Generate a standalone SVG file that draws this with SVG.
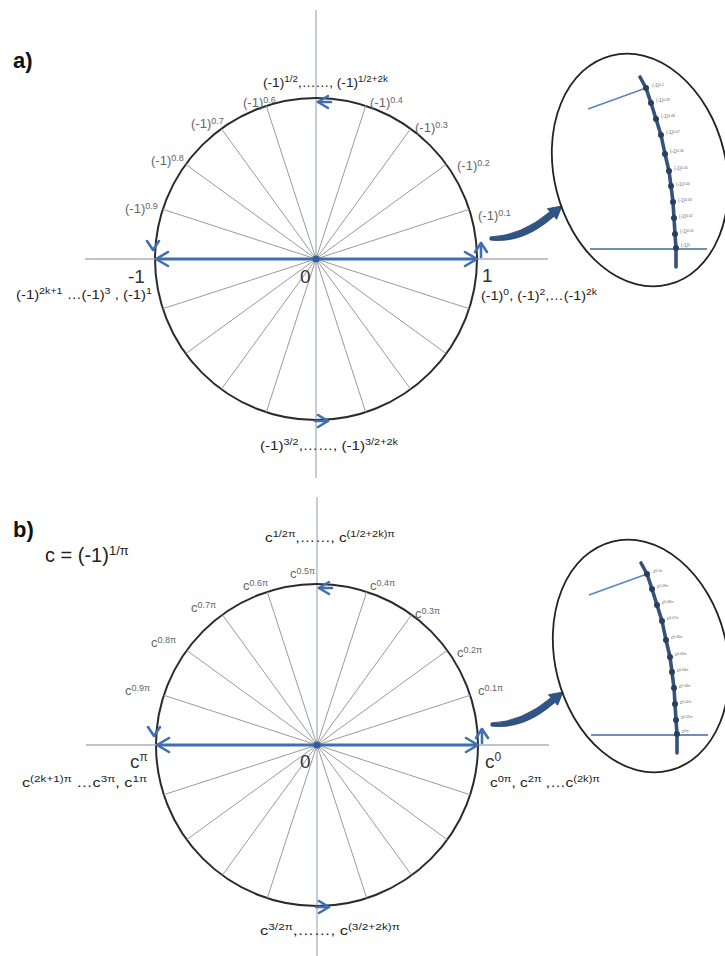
<svg xmlns="http://www.w3.org/2000/svg" xmlns:xlink="http://www.w3.org/1999/xlink" width="725" height="956" viewBox="0 0 725 956">
<style>
.axis{stroke:#a9b0bc;stroke-width:1.3;fill:none}
.spoke{stroke:#9a9a9a;stroke-width:1;fill:none}
.rim{stroke:#2b2b2b;stroke-width:2;fill:none}
.blue{stroke:#3f6fb0;stroke-width:3.2;fill:none;stroke-linecap:round;stroke-linejoin:round}
.chev{stroke:#3f6fb0;stroke-width:2.6;fill:none;stroke-linecap:round;stroke-linejoin:round}
.ell{stroke:#222;stroke-width:1.8;fill:none}
.arc{stroke:#34527a;stroke-width:3.6;fill:none;stroke-linejoin:round;stroke-linecap:round}
.thin{stroke:#5b86c0;stroke-width:1.6;fill:none}
.hz{stroke:#3e6aa0;stroke-width:1.6;fill:none}
.dot{fill:#2b3f5c}
.big{fill:#2f5588;stroke:#1f3b63;stroke-width:0.8}
text{font-family:"Liberation Sans","DejaVu Sans",sans-serif}
.lab{font-size:13px;fill:#666}
.main{font-size:12.5px;fill:#222}
.num{font-size:19px;fill:#333}
.hdr{font-size:22px;fill:#111;font-weight:bold}
.tiny{font-size:4.5px;fill:#666}
</style>
<defs>
<g id="wheel">
<circle cx="316" cy="259" r="161" class="rim"/>
<g id="spokes">
<line x1="316" y1="259" x2="469.1" y2="209.3" class="spoke"/>
<line x1="316" y1="259" x2="446.2" y2="164.4" class="spoke"/>
<line x1="316" y1="259" x2="410.6" y2="128.8" class="spoke"/>
<line x1="316" y1="259" x2="365.7" y2="105.9" class="spoke"/>
<line x1="316" y1="259" x2="266.3" y2="105.9" class="spoke"/>
<line x1="316" y1="259" x2="221.4" y2="128.8" class="spoke"/>
<line x1="316" y1="259" x2="185.8" y2="164.4" class="spoke"/>
<line x1="316" y1="259" x2="162.9" y2="209.3" class="spoke"/>
<line x1="316" y1="259" x2="162.9" y2="308.7" class="spoke"/>
<line x1="316" y1="259" x2="185.8" y2="353.6" class="spoke"/>
<line x1="316" y1="259" x2="221.4" y2="389.2" class="spoke"/>
<line x1="316" y1="259" x2="266.3" y2="412.1" class="spoke"/>
<line x1="316" y1="259" x2="365.7" y2="412.1" class="spoke"/>
<line x1="316" y1="259" x2="410.6" y2="389.2" class="spoke"/>
<line x1="316" y1="259" x2="446.2" y2="353.6" class="spoke"/>
<line x1="316" y1="259" x2="469.1" y2="308.7" class="spoke"/>
</g>
<line x1="85" y1="259" x2="548" y2="259" class="axis"/>
<g id="arrows">
<line x1="158" y1="259" x2="474" y2="259" class="blue"/>
<polyline points="168,252 156,259 168,266" class="chev"/>
<polyline points="465,252 477,259 465,266" class="chev"/>
<polyline points="328,96 318,102 328,108" class="chev"/>
<line x1="318" y1="102" x2="331" y2="102" class="chev"/>
<polyline points="147,241 153,250 159,241" class="chev"/>
<polyline points="318,415 328,421 318,427" class="chev"/>
<line x1="315" y1="421" x2="328" y2="421" class="chev"/>
<polyline points="475,252 481,243 487,252" class="chev"/>
<line x1="481" y1="243" x2="481" y2="257" class="chev"/>
<circle cx="316" cy="259" r="3.5" fill="#2f5f9e"/>
</g>
<path d="M490,237 Q521,236 550,211.7 L547.4,208.7 L562,206 L556.6,219.3 L554,216.3 Q523,244 490,240 Z" class="big"/>
<ellipse cx="640" cy="170" rx="86" ry="118" transform="rotate(-14 640 170)" class="ell"/>
<line x1="588" y1="109" x2="646" y2="88" class="thin"/>
<line x1="590" y1="249" x2="707" y2="249" class="hz"/>
<polyline points="640,77 646,88 651,103 656,119 661,135 665,154 669,171 671,186 673,202 674,218 675,234 676,248 676,267" class="arc"/>
<g class="dot">
<circle cx="646" cy="88" r="3"/><circle cx="651" cy="103" r="3"/><circle cx="656" cy="119" r="3"/><circle cx="661" cy="135" r="3"/><circle cx="665" cy="154" r="3"/><circle cx="669" cy="171" r="3"/><circle cx="671" cy="186" r="3"/><circle cx="673" cy="202" r="3"/><circle cx="674" cy="218" r="3"/><circle cx="675" cy="234" r="3"/><circle cx="676" cy="248" r="3"/>
</g>
</g>
</defs>

<g id="panel-a">
<line x1="316" y1="10" x2="316" y2="478" class="axis"/>
<use xlink:href="#wheel" href="#wheel"/>
<text x="13" y="68" class="hdr">a)</text>
<g id="labels-a">
<text x="263" y="87" class="main" textLength="125" lengthAdjust="spacingAndGlyphs">(-1)<tspan dy="-5" font-size="9">1/2</tspan><tspan dy="5">,……, (-1)</tspan><tspan dy="-5" font-size="9">1/2+2k</tspan></text>
<text x="243" y="107" class="lab">(-1)<tspan dy="-4" font-size="9">0.6</tspan></text>
<text x="191" y="128" class="lab">(-1)<tspan dy="-4" font-size="9">0.7</tspan></text>
<text x="151" y="165" class="lab">(-1)<tspan dy="-4" font-size="9">0.8</tspan></text>
<text x="125" y="213" class="lab">(-1)<tspan dy="-4" font-size="9">0.9</tspan></text>
<text x="370" y="107" class="lab">(-1)<tspan dy="-4" font-size="9">0.4</tspan></text>
<text x="415" y="132" class="lab">(-1)<tspan dy="-4" font-size="9">0.3</tspan></text>
<text x="457" y="170" class="lab">(-1)<tspan dy="-4" font-size="9">0.2</tspan></text>
<text x="478" y="220" class="lab">(-1)<tspan dy="-4" font-size="9">0.1</tspan></text>
<text x="128" y="283" class="num">-1</text>
<text x="300" y="283" class="num">0</text>
<text x="482" y="282" class="num">1</text>
<text x="16" y="299" class="main" textLength="136" lengthAdjust="spacingAndGlyphs">(-1)<tspan dy="-5" font-size="9">2k+1</tspan><tspan dy="5"> …(-1)</tspan><tspan dy="-5" font-size="9">3</tspan><tspan dy="5"> ,  (-1)</tspan><tspan dy="-5" font-size="9">1</tspan></text>
<text x="481" y="300" class="main" textLength="116" lengthAdjust="spacingAndGlyphs">(-1)<tspan dy="-5" font-size="9">0</tspan><tspan dy="5">, (-1)</tspan><tspan dy="-5" font-size="9">2</tspan><tspan dy="5">,…(-1)</tspan><tspan dy="-5" font-size="9">2k</tspan></text>
<text x="260" y="450" class="main" textLength="138" lengthAdjust="spacingAndGlyphs">(-1)<tspan dy="-5" font-size="9">3/2</tspan><tspan dy="5">,……, (-1)</tspan><tspan dy="-5" font-size="9">3/2+2k</tspan></text>
</g>
<g id="zoom-labels-a" class="tiny">
<text x="652" y="87">(-1)<tspan dy="-1.5" font-size="3.5">0.1</tspan></text>
<text x="656" y="102">(-1)<tspan dy="-1.5" font-size="3.5">0.09</tspan></text>
<text x="661" y="118">(-1)<tspan dy="-1.5" font-size="3.5">0.08</tspan></text>
<text x="666" y="134">(-1)<tspan dy="-1.5" font-size="3.5">0.07</tspan></text>
<text x="670" y="153">(-1)<tspan dy="-1.5" font-size="3.5">0.06</tspan></text>
<text x="674" y="170">(-1)<tspan dy="-1.5" font-size="3.5">0.05</tspan></text>
<text x="676" y="186">(-1)<tspan dy="-1.5" font-size="3.5">0.04</tspan></text>
<text x="678" y="202">(-1)<tspan dy="-1.5" font-size="3.5">0.03</tspan></text>
<text x="679" y="218">(-1)<tspan dy="-1.5" font-size="3.5">0.02</tspan></text>
<text x="680" y="233">(-1)<tspan dy="-1.5" font-size="3.5">0.01</tspan></text>
<text x="681" y="247">(-1)<tspan dy="-1.5" font-size="3.5">0</tspan></text>
</g>
</g>

<g id="panel-b">
<line x1="317" y1="497" x2="317" y2="956" class="axis"/>
<use xlink:href="#wheel" href="#wheel" transform="translate(1,486)"/>
<text x="13" y="537" class="hdr">b)</text>
<text x="45" y="562" style="font-size:20px;fill:#222">c = (-1)<tspan dy="-7" font-size="13">1/π</tspan></text>
<g id="labels-b">
<text x="265" y="542" class="main" textLength="130" lengthAdjust="spacingAndGlyphs">c<tspan dy="-5" font-size="9">1/2π</tspan><tspan dy="5">,……, c</tspan><tspan dy="-5" font-size="9">(1/2+2k)π</tspan></text>
<text x="290" y="578" class="lab">c<tspan dy="-4" font-size="9">0.5π</tspan></text>
<text x="243" y="590" class="lab">c<tspan dy="-4" font-size="9">0.6π</tspan></text>
<text x="191" y="612" class="lab">c<tspan dy="-4" font-size="9">0.7π</tspan></text>
<text x="151" y="647" class="lab">c<tspan dy="-4" font-size="9">0.8π</tspan></text>
<text x="125" y="695" class="lab">c<tspan dy="-4" font-size="9">0.9π</tspan></text>
<text x="370" y="590" class="lab">c<tspan dy="-4" font-size="9">0.4π</tspan></text>
<text x="415" y="618" class="lab">c<tspan dy="-4" font-size="9">0.3π</tspan></text>
<text x="457" y="657" class="lab">c<tspan dy="-4" font-size="9">0.2π</tspan></text>
<text x="478" y="695" class="lab">c<tspan dy="-4" font-size="9">0.1π</tspan></text>
<text x="130" y="768" class="num">c<tspan dy="-7" font-size="12">π</tspan></text>
<text x="300" y="768" class="num">0</text>
<text x="485" y="768" class="num">c<tspan dy="-7" font-size="12">0</tspan></text>
<text x="22" y="787" class="main" textLength="125" lengthAdjust="spacingAndGlyphs">c<tspan dy="-5" font-size="9">(2k+1)π</tspan><tspan dy="5"> …c</tspan><tspan dy="-5" font-size="9">3π</tspan><tspan dy="5">,  c</tspan><tspan dy="-5" font-size="9">1π</tspan></text>
<text x="490" y="787" class="main" textLength="110" lengthAdjust="spacingAndGlyphs">c<tspan dy="-5" font-size="9">0π</tspan><tspan dy="5">, c</tspan><tspan dy="-5" font-size="9">2π</tspan><tspan dy="5"> ,…c</tspan><tspan dy="-5" font-size="9">(2k)π</tspan></text>
<text x="260" y="935" class="main" textLength="140" lengthAdjust="spacingAndGlyphs">c<tspan dy="-5" font-size="9">3/2π</tspan><tspan dy="5">,……, c</tspan><tspan dy="-5" font-size="9">(3/2+2k)π</tspan></text>
</g>
<g id="zoom-labels-b" class="tiny">
<text x="653" y="573">c<tspan dy="-1.5" font-size="3.5">0.1π</tspan></text>
<text x="657" y="588">c<tspan dy="-1.5" font-size="3.5">0.09π</tspan></text>
<text x="662" y="604">c<tspan dy="-1.5" font-size="3.5">0.08π</tspan></text>
<text x="667" y="620">c<tspan dy="-1.5" font-size="3.5">0.07π</tspan></text>
<text x="671" y="639">c<tspan dy="-1.5" font-size="3.5">0.06π</tspan></text>
<text x="675" y="656">c<tspan dy="-1.5" font-size="3.5">0.05π</tspan></text>
<text x="677" y="672">c<tspan dy="-1.5" font-size="3.5">0.04π</tspan></text>
<text x="679" y="688">c<tspan dy="-1.5" font-size="3.5">0.03π</tspan></text>
<text x="680" y="704">c<tspan dy="-1.5" font-size="3.5">0.02π</tspan></text>
<text x="681" y="719">c<tspan dy="-1.5" font-size="3.5">0.01π</tspan></text>
<text x="682" y="733">c<tspan dy="-1.5" font-size="3.5">0π</tspan></text>
</g>
</g>
</svg>
